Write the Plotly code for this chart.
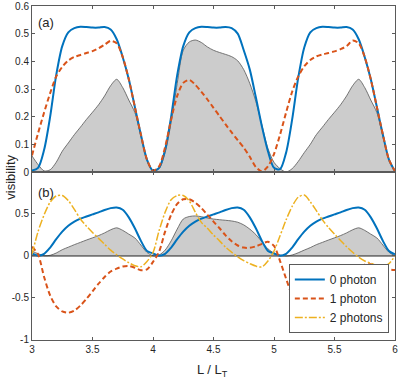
import plotly.graph_objects as go

# Reduced length L / L_T
L = [3.00, 3.05, 3.10, 3.15, 3.20, 3.25, 3.30, 3.35, 3.40, 3.45,
     3.50, 3.55, 3.60, 3.65, 3.70, 3.75, 3.80, 3.85, 3.90, 3.95,
     4.00, 4.05, 4.10, 4.15, 4.20, 4.25, 4.30, 4.35, 4.40, 4.45,
     4.50, 4.55, 4.60, 4.65, 4.70, 4.75, 4.80, 4.85, 4.90, 4.95,
     5.00, 5.05, 5.10, 5.15, 5.20, 5.25, 5.30, 5.35, 5.40, 5.45,
     5.50, 5.55, 5.60, 5.65, 5.70, 5.75, 5.80, 5.85, 5.90, 5.95, 6.00]

# panel (a)
a_zero = [0.005, 0.015, 0.08, 0.2, 0.35, 0.455, 0.505, 0.52, 0.525, 0.524,
          0.522, 0.522, 0.524, 0.515, 0.48, 0.415, 0.335, 0.235, 0.135, 0.045,
          0.005, 0.015, 0.08, 0.2, 0.35, 0.455, 0.505, 0.52, 0.525, 0.524,
          0.522, 0.522, 0.524, 0.52, 0.5, 0.44, 0.37, 0.27, 0.165, 0.075,
          0.015, 0.01, 0.07, 0.19, 0.34, 0.45, 0.505, 0.52, 0.525, 0.524,
          0.522, 0.522, 0.524, 0.515, 0.48, 0.415, 0.335, 0.235, 0.135, 0.045, 0.003]
a_one = [0.06, 0.14, 0.215, 0.285, 0.345, 0.38, 0.403, 0.416, 0.423, 0.43,
         0.437, 0.447, 0.46, 0.474, 0.465, 0.415, 0.335, 0.235, 0.135, 0.045,
         0.005, 0.02, 0.09, 0.19, 0.275, 0.322, 0.333, 0.315, 0.29, 0.262,
         0.232, 0.202, 0.172, 0.143, 0.115, 0.088, 0.055, 0.018, 0.002, 0.02,
         0.065, 0.135, 0.215, 0.29, 0.345, 0.382, 0.405, 0.418, 0.425, 0.43,
         0.436, 0.444, 0.455, 0.475, 0.465, 0.415, 0.335, 0.235, 0.135, 0.045, 0.003]

# shaded reference curve (same in both panels)
shade = [0.058, 0.027, 0.004, 0.008, 0.035, 0.075, 0.105, 0.135, 0.162, 0.19,
         0.216, 0.243, 0.275, 0.312, 0.335, 0.305, 0.26, 0.215, 0.13, 0.043,
         0.004, 0.012, 0.07, 0.18, 0.32, 0.44, 0.47, 0.477, 0.468, 0.452,
         0.44, 0.432, 0.425, 0.417, 0.402, 0.37, 0.32, 0.255, 0.17, 0.085,
         0.035, 0.012, 0.0, 0.012, 0.038, 0.07, 0.1, 0.135, 0.162, 0.19,
         0.216, 0.243, 0.275, 0.312, 0.335, 0.305, 0.26, 0.215, 0.13, 0.045, 0.003]

# panel (b)
b_zero = [0.03, 0.003, 0.025, 0.1, 0.2, 0.29, 0.36, 0.41, 0.445, 0.47,
          0.495, 0.52, 0.548, 0.57, 0.578, 0.55, 0.46, 0.33, 0.18, 0.06,
          0.03, 0.003, 0.025, 0.1, 0.2, 0.29, 0.36, 0.41, 0.445, 0.47,
          0.495, 0.52, 0.548, 0.57, 0.578, 0.55, 0.46, 0.33, 0.18, 0.06,
          0.03, 0.003, 0.025, 0.1, 0.2, 0.29, 0.36, 0.41, 0.445, 0.47,
          0.495, 0.52, 0.548, 0.57, 0.578, 0.55, 0.46, 0.33, 0.18, 0.06, 0.02]
b_one = [0.11, 0.02, -0.25, -0.47, -0.6, -0.66, -0.675, -0.65, -0.59, -0.51,
         -0.42, -0.33, -0.25, -0.185, -0.15, -0.125, -0.12, -0.14, -0.17, -0.16,
         -0.07, 0.05, 0.29, 0.49, 0.62, 0.675, 0.675, 0.635, 0.57, 0.49,
         0.41, 0.33, 0.245, 0.175, 0.125, 0.1, 0.097, 0.115, 0.145, 0.17,
         0.12, -0.06, -0.27, -0.47, -0.6, -0.66, -0.675, -0.65, -0.59, -0.51,
         -0.41, -0.31, -0.22, -0.165, -0.125, -0.103, -0.098, -0.115, -0.143, -0.16, -0.167]
b_two = [0.02, 0.29, 0.49, 0.64, 0.715, 0.72, 0.66, 0.555, 0.44, 0.355,
         0.28, 0.21, 0.14, 0.07, 0.015, -0.035, -0.08, -0.115, -0.128, -0.065,
         0.04, 0.3, 0.52, 0.67, 0.72, 0.72, 0.655, 0.52, 0.4, 0.33,
         0.25, 0.18, 0.105, 0.045, -0.01, -0.055, -0.09, -0.12, -0.13, -0.06,
         0.06, 0.24, 0.43, 0.59, 0.7, 0.725, 0.645, 0.54, 0.43, 0.34,
         0.26, 0.185, 0.11, 0.045, -0.015, -0.06, -0.085, -0.115, -0.13, -0.09, 0.0]

series_names = ["0 photon", "1 photon", "2 photons"]
xticks = [3, 3.5, 4, 4.5, 5, 5.5, 6]
xticklabels = ["3", "3.5", "4", "4.5", "5", "5.5", "6"]
a_yticks = [0, 0.1, 0.2, 0.3, 0.4, 0.5, 0.6]
a_yticklabels = ["0", "0.1", "0.2", "0.3", "0.4", "0.5", "0.6"]
b_yticks = [-1, -0.5, 0, 0.5]
b_yticklabels = ["-1", "-0.5", "0", "0.5"]

BLUE = "#0072BD"
ORANGE = "#D95319"
YELLOW = "#EDB120"
FONT = "Liberation Sans, Arial, sans-serif"
AX = "#5a5a5a"
TXT = "#262626"

fig = go.Figure()
spl = dict(shape="spline", smoothing=0.8)

for xa, ya in (("x", "y"), ("x2", "y2")):
    fig.add_trace(go.Scatter(x=L, y=shade, xaxis=xa, yaxis=ya, fill="tozeroy",
                             fillcolor="#cccccc", mode="lines",
                             line=dict(color="#555555", width=0.8, **spl),
                             showlegend=False, hoverinfo="skip"))

fig.add_trace(go.Scatter(x=[L[0], L[-1]], y=[0, 0], xaxis="x2", yaxis="y2", mode="lines",
                         line=dict(color="#222222", width=1), showlegend=False, hoverinfo="skip"))

fig.add_trace(go.Scatter(x=L, y=a_zero, xaxis="x", yaxis="y", mode="lines",
                         line=dict(color=BLUE, width=2, **spl), showlegend=False))
fig.add_trace(go.Scatter(x=L, y=a_one, xaxis="x", yaxis="y", mode="lines",
                         line=dict(color=ORANGE, width=2, dash="5px,3px", **spl), showlegend=False))

fig.add_trace(go.Scatter(x=L, y=b_zero, xaxis="x2", yaxis="y2", mode="lines", name=series_names[0],
                         line=dict(color=BLUE, width=2, **spl)))
fig.add_trace(go.Scatter(x=L, y=b_one, xaxis="x2", yaxis="y2", mode="lines", name=series_names[1],
                         line=dict(color=ORANGE, width=2, dash="5px,3px", **spl)))
fig.add_trace(go.Scatter(x=L, y=b_two, xaxis="x2", yaxis="y2", mode="lines", name=series_names[2],
                         line=dict(color=YELLOW, width=1.5, dash="8px,2px,2px,2px", **spl)))

axcommon = dict(showline=True, linecolor=AX, linewidth=1, mirror="ticks", ticks="inside",
                ticklen=3, tickcolor=AX, showgrid=False, zeroline=False, automargin=False,
                tickfont=dict(family=FONT, size=10, color=TXT))
split = 0.503
fig.update_layout(
    width=399, height=385,
    margin=dict(l=32, r=4, t=6, b=45, autoexpand=False),
    paper_bgcolor="white", plot_bgcolor="white",
    font=dict(family=FONT, color=TXT),
    xaxis=dict(domain=[0, 1], range=[3, 6], anchor="y", tickvals=xticks,
               showticklabels=False, **axcommon),
    yaxis=dict(domain=[split, 1], range=[0, 0.6], anchor="x", tickvals=a_yticks,
               ticktext=a_yticklabels, **axcommon),
    xaxis2=dict(domain=[0, 1], range=[3, 6], anchor="y2", tickvals=xticks,
                ticktext=xticklabels, **axcommon),
    yaxis2=dict(domain=[0, split], range=[-1, 1], anchor="x2", tickvals=b_yticks,
                ticktext=b_yticklabels, **axcommon),
    legend=dict(x=0.983, y=0.021, xanchor="right", yanchor="bottom",
                bgcolor="white", bordercolor="#5a5a5a", borderwidth=1,
                font=dict(family=FONT, size=12, color=TXT),
                tracegroupgap=0, itemwidth=30),
    showlegend=True,
    annotations=[
        dict(text="(a)", xref="paper", yref="paper", x=0.01, y=0.952, xanchor="left",
             yanchor="middle", showarrow=False, font=dict(family=FONT, size=13, color=TXT)),
        dict(text="(b)", xref="paper", yref="paper", x=0.01, y=0.443, xanchor="left",
             yanchor="middle", showarrow=False, font=dict(family=FONT, size=13, color=TXT)),
        dict(text="visibility", xref="paper", yref="paper", x=-0.0615, y=0.488,
             xanchor="center", yanchor="middle", textangle=-90, showarrow=False,
             font=dict(family=FONT, size=13, color=TXT)),
        dict(text="L / L<sub>T</sub>", xref="paper", yref="paper", x=0.498, y=-0.09,
             xanchor="center", yanchor="middle", showarrow=False,
             font=dict(family=FONT, size=13, color=TXT)),
    ],
)

fig.write_html("out.html", config={"displayModeBar": False},
               post_script="document.body.style.margin='0px';")
